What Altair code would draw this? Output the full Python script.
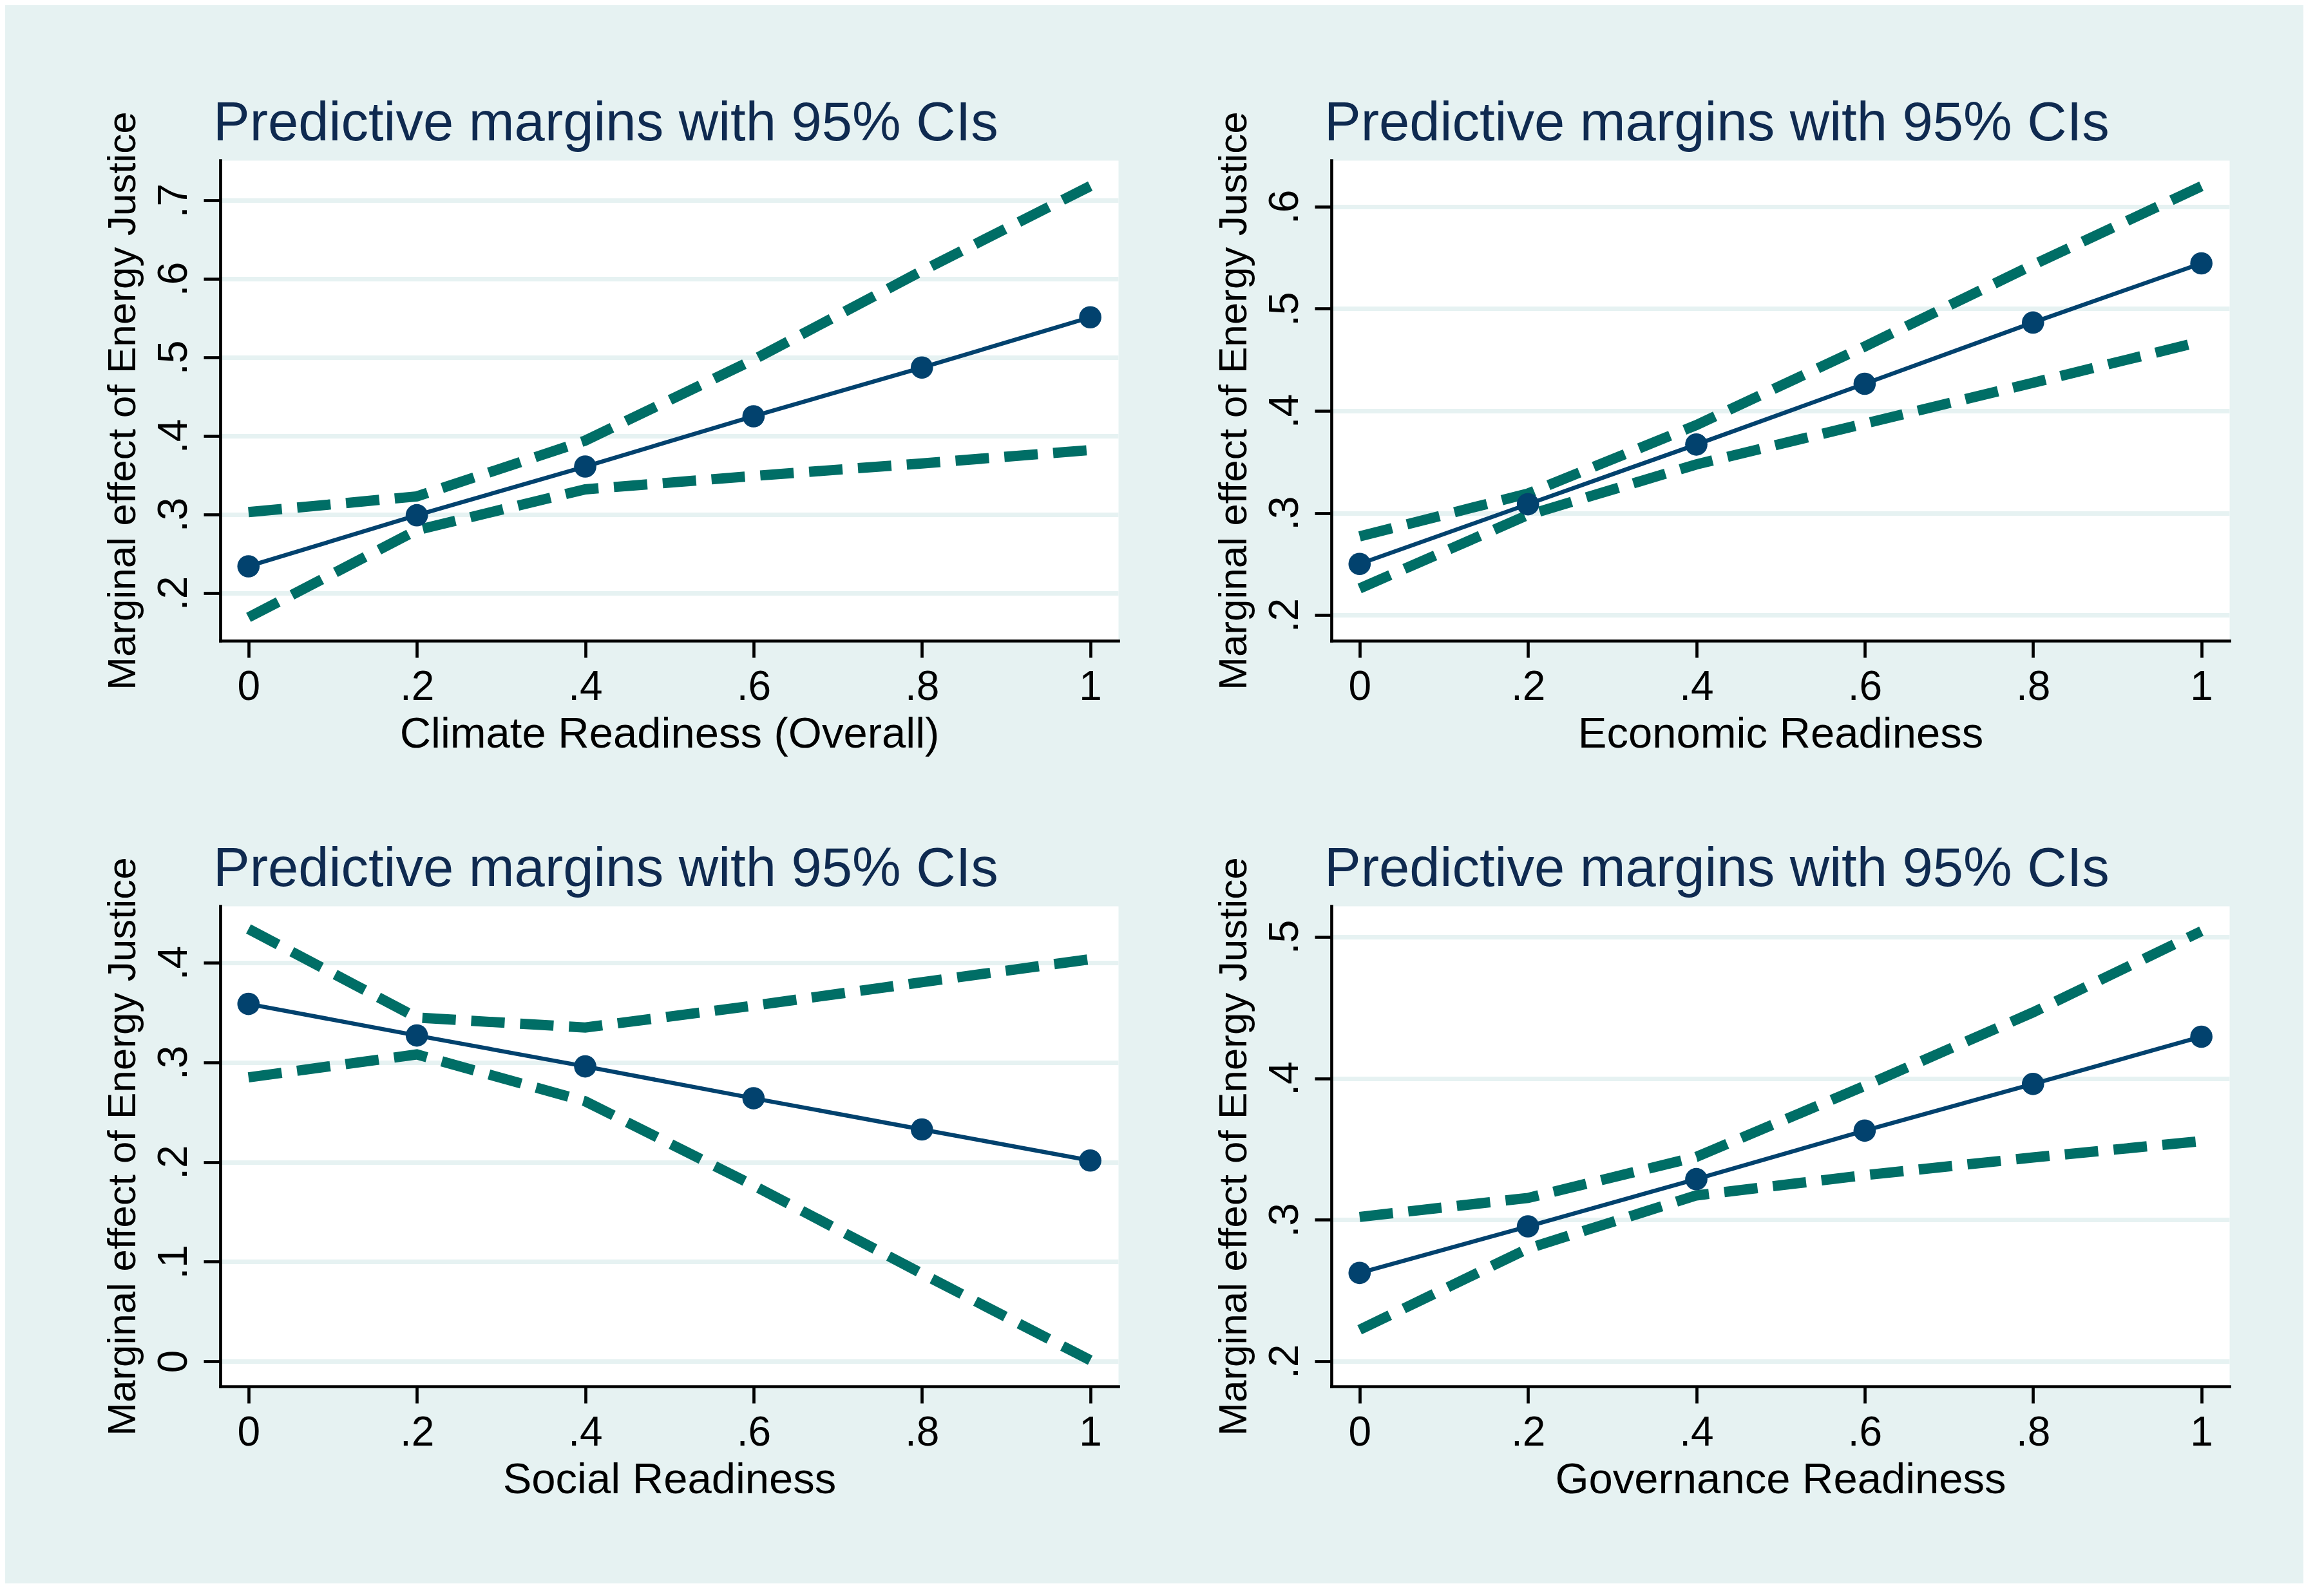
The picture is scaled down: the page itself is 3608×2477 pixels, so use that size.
import altair as alt
import pandas as pd

# ---- data ----
x_vals = [0.0, 0.2, 0.4, 0.6, 0.8, 1.0]

climate_est = [0.234, 0.299, 0.361, 0.425, 0.487, 0.551]
climate_hi = [0.303, 0.323, 0.394, 0.497, 0.610, 0.718]
climate_lo = [0.169, 0.280, 0.332, 0.349, 0.365, 0.382]

econ_est = [0.250, 0.3085, 0.367, 0.4265, 0.4865, 0.5445]
econ_hi = [0.277, 0.319, 0.386, 0.463, 0.543, 0.620]
econ_lo = [0.226, 0.298, 0.3475, 0.3875, 0.4275, 0.468]

social_est = [0.3587, 0.327, 0.296, 0.264, 0.2327, 0.2015]
social_hi = [0.434, 0.345, 0.335, 0.357, 0.3805, 0.4036]
social_lo = [0.285, 0.308, 0.261, 0.1765, 0.088, 0.001]

gov_est = [0.2624, 0.2953, 0.3287, 0.363, 0.396, 0.4294]
gov_hi = [0.302, 0.3154, 0.3444, 0.3946, 0.4466, 0.504]
gov_lo = [0.2222, 0.2796, 0.3172, 0.3315, 0.344, 0.3556]

x_titles = ["Climate Readiness (Overall)", "Economic Readiness",
            "Social Readiness", "Governance Readiness"]
y_title = "Marginal effect of Energy Justice"
panel_title = "Predictive margins with 95% CIs"

climate_ticks = [0.2, 0.3, 0.4, 0.5, 0.6, 0.7]
econ_ticks = [0.2, 0.3, 0.4, 0.5, 0.6]
social_ticks = [0.0, 0.1, 0.2, 0.3, 0.4]
gov_ticks = [0.2, 0.3, 0.4, 0.5]

climate_dom = [0.1393, 0.7508]
econ_dom = [0.1748, 0.6454]
social_dom = [-0.0252, 0.457]
gov_dom = [0.1822, 0.5218]
x_dom = [-0.0335, 1.0332]

# ---- styles ----
FONT = "Liberation Sans"
BG = "#e6f2f2"
NAVY = "#02426e"
TEAL = "#006e66"
TITLE_C = "#0f2a50"
W, H = 1394, 746

label_expr = ("datum.value == 0 ? '0' : datum.value == 1 ? '1' : "
              "replace(format(datum.value, '.1f'), '0.', '.')")


def panel(xtitle, est, lo, hi, ydom, yticks):
    df = pd.DataFrame({"x": x_vals, "est": est, "lo": lo, "hi": hi})
    xs = alt.Scale(domain=x_dom, nice=False, zero=False)
    ys = alt.Scale(domain=ydom, nice=False, zero=False)
    xaxis = alt.Axis(
        values=x_vals, labelExpr=label_expr, title=xtitle, grid=False,
        labelAngle=0, labelAlign="center", labelBaseline="top",
        labelPadding=14, labelFlush=False, labelOverlap=False,
        titleX=W / 2, titleY=165, titleAlign="center",
        titleBaseline="alphabetic", titleFontSize=67,
    )
    yaxis = alt.Axis(
        values=yticks, labelExpr=label_expr, title=y_title, grid=True,
        gridColor=BG, gridWidth=7,
        labelAngle=270, labelAlign="center", labelBaseline="bottom",
        labelPadding=14, labelFlush=False, labelOverlap=False,
        titleAngle=270, titleX=-133, titleY=H / 2, titleAlign="center",
        titleBaseline="alphabetic", titleFontSize=62,
    )
    base = alt.Chart(df)
    ci = base.transform_fold(["lo", "hi"], as_=["bound", "val"]).mark_line(
        color=TEAL, strokeWidth=16, strokeDash=[52, 24], strokeCap="butt"
    ).encode(
        x=alt.X("x:Q", scale=xs, axis=xaxis),
        y=alt.Y("val:Q", scale=ys, axis=yaxis),
        detail="bound:N",
    )
    line = base.mark_line(color=NAVY, strokeWidth=6.5).encode(
        x=alt.X("x:Q", scale=xs, axis=xaxis),
        y=alt.Y("est:Q", scale=ys, axis=yaxis),
    )
    pts = base.mark_circle(color=NAVY, size=1200, opacity=1).encode(
        x=alt.X("x:Q", scale=xs, axis=xaxis),
        y=alt.Y("est:Q", scale=ys, axis=yaxis),
    )
    return alt.layer(ci, line, pts).properties(
        width=W, height=H,
        title=alt.TitleParams(
            text=panel_title, anchor="start", frame="group", dx=-11,
            offset=-63, font=FONT, fontSize=85, fontWeight="normal",
            color=TITLE_C,
        ),
    )


c1 = panel(x_titles[0], climate_est, climate_lo, climate_hi, climate_dom, climate_ticks)
c2 = panel(x_titles[1], econ_est, econ_lo, econ_hi, econ_dom, econ_ticks)
c3 = panel(x_titles[2], social_est, social_lo, social_hi, social_dom, social_ticks)
c4 = panel(x_titles[3], gov_est, gov_lo, gov_hi, gov_dom, gov_ticks)

chart = alt.concat(
    c1, c2, c3, c4, columns=2,
    spacing=alt.RowColnumber(row=412, column=331), bounds="flush",
).properties(
    padding={"left": 150, "top": 141, "right": 114, "bottom": 127},
    background=BG,
).configure_view(
    fill="white", stroke="transparent"
).configure_axis(
    domainColor="black", domainWidth=4.7, domainCap="square",
    tickColor="black", tickWidth=4.7, tickSize=26,
    labelFont=FONT, labelFontSize=64, labelColor="black",
    titleFont=FONT, titleFontWeight="normal", titleColor="black",
)

chart.save("out.html", embed_options={"renderer": "svg", "actions": False})
